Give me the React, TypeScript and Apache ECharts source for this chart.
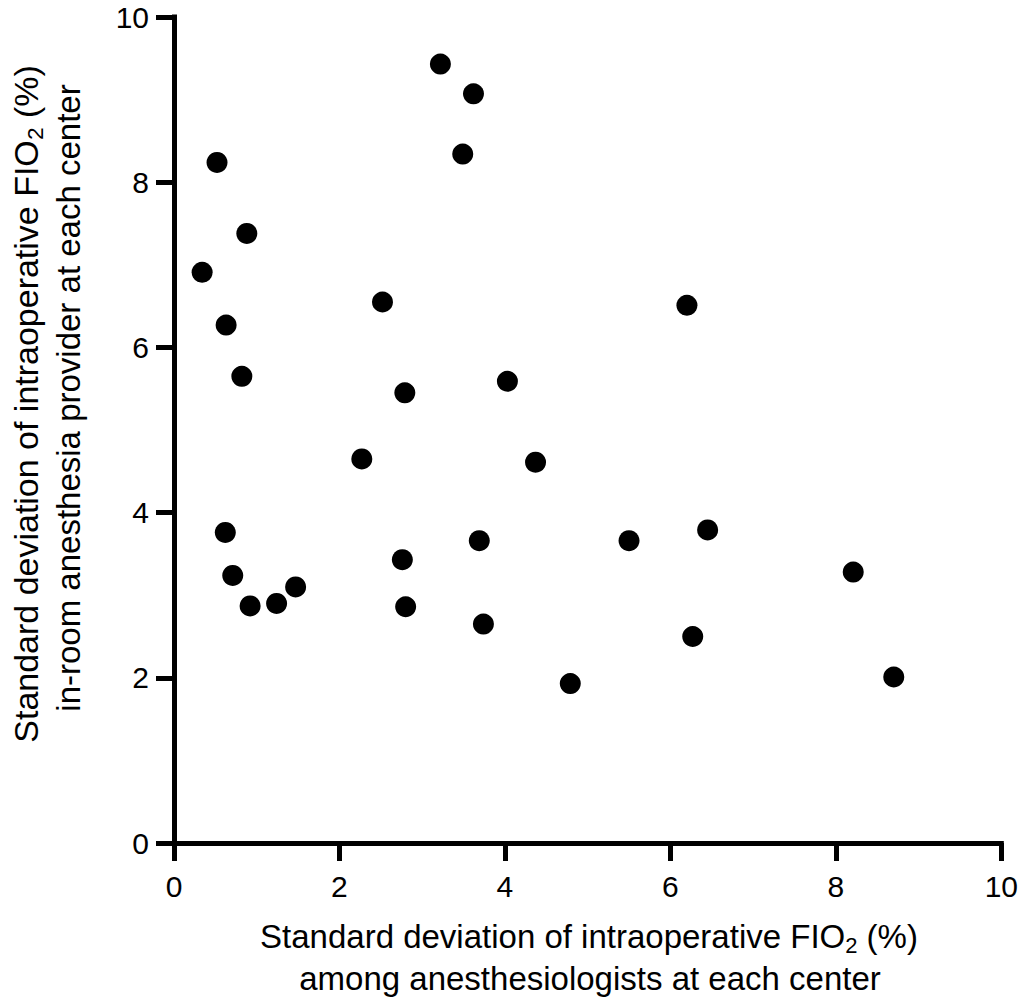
import React, { useEffect, useRef } from "react";
import * as echarts from "echarts";

const xValues = [0.34, 0.52, 0.63, 0.88, 0.82, 0.62, 0.71, 0.92, 1.24, 1.47, 3.22, 3.62, 3.49, 2.52, 2.79, 2.27, 2.76, 2.80, 3.69, 3.74, 4.03, 4.37, 4.79, 5.50, 6.20, 6.45, 6.27, 8.21, 8.70];
const yValues = [6.91, 8.24, 6.27, 7.38, 5.65, 3.76, 3.24, 2.87, 2.90, 3.10, 9.43, 9.07, 8.34, 6.55, 5.45, 4.65, 3.43, 2.86, 3.66, 2.65, 5.59, 4.61, 1.93, 3.66, 6.51, 3.79, 2.50, 3.28, 2.01];
const axisMin = 0;
const axisMax = 10;
const axisStep = 2;
const xTitleLines = ["Standard deviation of intraoperative FIO{sub|2} (%)", "among anesthesiologists at each center"];
const yTitleLines = ["Standard deviation of intraoperative FIO{sub|2} (%)", "in-room anesthesia provider at each center"];

const FONT = "'Liberation Sans', Arial, Helvetica, sans-serif";

export default function App() {
  const ref = useRef<HTMLDivElement>(null);
  useEffect(() => {
    if (!ref.current) return;
    const chart = echarts.init(ref.current, null, { renderer: "svg" });
    const points = xValues.map((x, i) => [x, yValues[i]]);
    const sub = { sub: { fontSize: 22, lineHeight: 18, verticalAlign: "bottom", fontFamily: FONT, fill: "#000" } };
    const axisCommon = {
      type: "value",
      min: axisMin,
      max: axisMax,
      interval: axisStep,
      splitLine: { show: false },
      axisLine: { show: true, lineStyle: { color: "#000", width: 5, cap: "square" } },
      axisTick: { show: true, length: 18, lineStyle: { color: "#000", width: 5 } },
    };
    chart.setOption({
      animation: false,
      backgroundColor: "#fff",
      grid: { left: 174, right: 18, top: 17, bottom: 162, containLabel: false },
      xAxis: {
        ...axisCommon,
        axisLabel: { color: "#000", fontSize: 30, fontFamily: FONT, margin: 28 },
      },
      yAxis: {
        ...axisCommon,
        axisLabel: { color: "#000", fontSize: 30, fontFamily: FONT, margin: 25 },
      },
      series: [
        {
          type: "scatter",
          data: points,
          symbol: "circle",
          symbolSize: 21,
          itemStyle: { color: "#000", opacity: 1 },
        },
      ],
      graphic: [
        {
          type: "text",
          x: 589,
          y: 936,
          style: { text: xTitleLines[0], fontSize: 33, lineHeight: 40, fontFamily: FONT, fill: "#000", align: "center", verticalAlign: "middle", rich: sub },
        },
        {
          type: "text",
          x: 590,
          y: 978,
          style: { text: xTitleLines[1], fontSize: 33, lineHeight: 40, fontFamily: FONT, fill: "#000", align: "center", verticalAlign: "middle" },
        },
        {
          type: "text",
          x: 27,
          y: 404,
          rotation: Math.PI / 2,
          scaleX: 1.03,
          style: { text: yTitleLines[0], fontSize: 33, lineHeight: 40, fontFamily: FONT, fill: "#000", align: "center", verticalAlign: "middle", rich: sub },
        },
        {
          type: "text",
          x: 68,
          y: 398,
          rotation: Math.PI / 2,
          style: { text: yTitleLines[1], fontSize: 33, lineHeight: 40, fontFamily: FONT, fill: "#000", align: "center", verticalAlign: "middle" },
        },
      ],
    });
    return () => chart.dispose();
  }, []);
  return <div ref={ref} style={{ position: "fixed", left: 0, top: 0, width: 1021, height: 1005 }} />;
}
